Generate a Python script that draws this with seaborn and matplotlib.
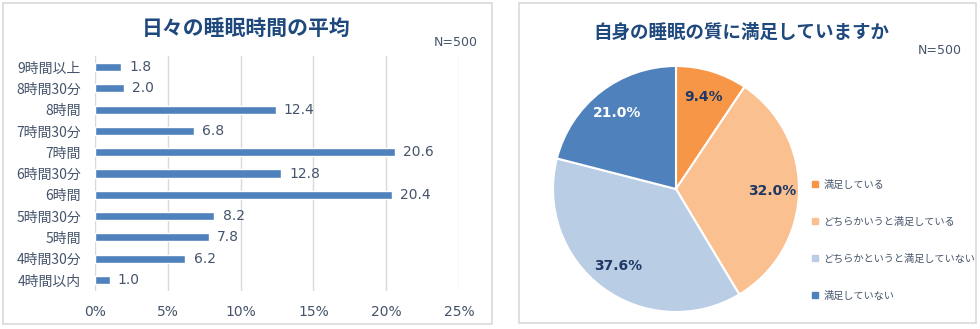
import matplotlib
matplotlib.use("Agg")
import matplotlib.pyplot as plt
import seaborn as sns
import pandas as pd
from matplotlib.patches import Rectangle
from matplotlib.lines import Line2D
from matplotlib.ticker import FuncFormatter

# ---- data ----
sleep_categories = ["9時間以上", "8時間30分", "8時間", "7時間30分", "7時間", "6時間30分",
                    "6時間", "5時間30分", "5時間", "4時間30分", "4時間以内"]
sleep_values = [1.8, 2.0, 12.4, 6.8, 20.6, 12.8, 20.4, 8.2, 7.8, 6.2, 1.0]
x_ticks = [0, 5, 10, 15, 20, 25]

pie_labels = ["満足している", "どちらかいうと満足している", "どちらかというと満足していない", "満足していない"]
pie_values = [9.4, 32.0, 37.6, 21.0]
pie_colors = ["#F79646", "#FAC090", "#B9CDE5", "#4F81BD"]

sns.set_theme(style="white")
plt.rcParams["font.family"] = ["Noto Sans CJK JP", "DejaVu Sans"]
NUM = ["DejaVu Sans"]

W, H = 980, 329
fig = plt.figure(figsize=(W / 100, H / 100), dpi=100)

def fx(px):
    return px / W

def fy(py):
    return 1 - py / H

title_col = "#1F497D"
text_col = "#44546A"
grid_col = "#D9D9D9"

# panel borders
fig.patches.append(Rectangle((fx(3), fy(324)), fx(489), (321) / H, transform=fig.transFigure,
                             fill=False, edgecolor=grid_col, linewidth=1.2))
fig.patches.append(Rectangle((fx(519), fy(323)), fx(457), (320) / H, transform=fig.transFigure,
                             fill=False, edgecolor=grid_col, linewidth=1.2))

# ---- bar chart ----
df = pd.DataFrame({"cat": sleep_categories, "val": sleep_values})
ax = fig.add_axes([fx(95), fy(290.7), fx(459 - 95), (290.7 - 56.3) / H])
sns.barplot(data=df, x="val", y="cat", orient="h", color="#4F81BD", saturation=1,
            width=0.38, ax=ax)
ax.set_xlim(0, 25)
ax.set_xticks(x_ticks)
ax.xaxis.set_major_formatter(FuncFormatter(lambda v, p: f"{int(v)}%"))
ax.grid(axis="x", color=grid_col, linewidth=1)
ax.set_axisbelow(True)
for s in ax.spines.values():
    s.set_visible(False)
ax.set_xlabel("")
ax.set_ylabel("")
ax.tick_params(axis="x", colors=text_col, labelsize=10, length=0, pad=10)
ax.tick_params(axis="y", colors=text_col, labelsize=10, length=0, pad=10)
for lbl in ax.get_xticklabels():
    lbl.set_color(text_col)
    lbl.set_family(NUM)
for lbl in ax.get_yticklabels():
    lbl.set_color(text_col)
for i, v in enumerate(sleep_values):
    ax.annotate(f"{v:.1f}", (v, i), xytext=(6, 0), textcoords="offset points",
                va="center", ha="left", fontsize=10, color=text_col, family=NUM)

fig.text(fx(246), fy(28), "日々の睡眠時間の平均", ha="center", va="center",
         fontsize=15, fontweight="bold", color=title_col)
fig.text(fx(478), fy(43), "N=500", ha="right", va="center", fontsize=9, color=text_col,
         family=NUM)

# ---- pie chart ----
R = 123
cx, cy = 676, 189
pax = fig.add_axes([fx(cx - R), fy(cy + R), fx(2 * R), 2 * R / H])
wedges, texts, autotexts = pax.pie(pie_values, colors=pie_colors, startangle=90, counterclock=False,
                                   autopct="%.1f%%", pctdistance=0.78,
                                   wedgeprops=dict(edgecolor="white", linewidth=1.5))
for i, t in enumerate(autotexts):
    t.set_fontsize(10)
    t.set_fontweight("bold")
    t.set_family(NUM)
    t.set_color("white" if i == 3 else "#1F3864")
pax.set_xlim(-1, 1)
pax.set_ylim(-1, 1)
pax.set_aspect("equal")

fig.text(fx(741), fy(32), "自身の睡眠の質に満足していますか", ha="center", va="center",
         fontsize=13.3, fontweight="bold", color=title_col)
fig.text(fx(962), fy(50), "N=500", ha="right", va="center", fontsize=9, color=text_col,
         family=NUM)

handles = [Line2D([0], [0], marker="s", linestyle="", markersize=5, markerfacecolor=c,
                  markeredgecolor=c) for c in pie_colors]
leg = fig.legend(handles, pie_labels, loc="center left", bbox_to_anchor=(fx(808), fy(240)),
                 frameon=False, fontsize=7.3, labelspacing=2.65, handlelength=0.6,
                 handletextpad=0.5, borderaxespad=0)
for t in leg.get_texts():
    t.set_color(text_col)

fig.savefig("out.png", dpi=100)
